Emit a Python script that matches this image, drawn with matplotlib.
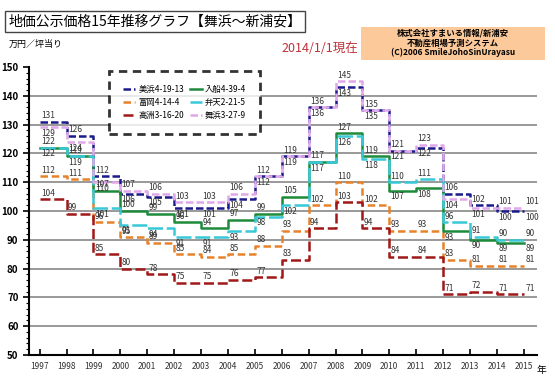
import matplotlib.pyplot as plt
from matplotlib.patches import Rectangle

plt.rcParams['font.family'] = ['Noto Sans CJK JP', 'DejaVu Sans']

years = list(range(1997, 2016))

mihama = [131, 126, 112, 106, 105, 101, 101, 104, 112, 119, 136, 143, 135, 121, 122, 106, 102, 100, 100]
maihama = [129, 124, 110, 107, 106, 103, 103, 106, 112, 119, 136, 145, 135, 121, 123, 104, 101, 101, 101]
irifune = [122, 119, 107, 100, 99, 96, 94, 97, 99, 105, 117, 127, 119, 107, 108, 93, 90, 89, 89]
benten = [122, 119, 101, 95, 94, 91, 91, 93, 98, 102, 117, 126, 118, 110, 111, 96, 91, 90, 90]
tomioka = [112, 111, 96, 91, 89, 85, 84, 85, 88, 93, 102, 110, 102, 93, 93, 83, 81, 81, 81]
takasu = [104, 99, 85, 80, 78, 75, 75, 76, 77, 83, 94, 103, 94, 84, 84, 71, 72, 71, 71]

names = ['美浜4-19-13', '富岡4-14-4', '高洲3-16-20', '入船4-39-4', '弁天2-21-5', '舞浜3-27-9']

fig = plt.figure(figsize=(5.55, 3.85), dpi=100)
ax = fig.add_axes([0.052, 0.078, 0.916, 0.748])

# series: values, colour, dash pattern
series = [
    (mihama, '#1a1a8c', (3, 1.2)),
    (tomioka, '#e8822a', (3, 1.5)),
    (takasu, '#a01818', (4, 1.5)),
    (irifune, '#1e8a3c', None),
    (benten, '#38c8d8', (6, 1.5)),
    (maihama, '#e0a8e8', (3, 1.2)),
]

handles = []
for (vals, col, dash), name in zip(series, names):
    line, = ax.step(years, vals, where='post', color=col, lw=1.8, label=name)
    if dash:
        line.set_dashes(dash)
    handles.append(line)


def put_label(x, v, above):
    if above:
        ax.annotate(str(v), (x, v), xytext=(1, 1.2), textcoords='offset points',
                    ha='left', va='bottom', fontsize=6, color='#333333')
    else:
        ax.annotate(str(v), (x, v), xytext=(1, -1.2), textcoords='offset points',
                    ha='left', va='top', fontsize=6, color='#333333')


for i, yr in enumerate(years):
    put_label(yr, mihama[i], mihama[i] >= maihama[i])
    put_label(yr, maihama[i], maihama[i] > mihama[i])
    put_label(yr, benten[i], benten[i] >= irifune[i])
    put_label(yr, irifune[i], irifune[i] > benten[i])
    put_label(yr, tomioka[i], True)
    put_label(yr, takasu[i], True)

ax.set_xlim(1996.6, 2015.5)
ax.set_ylim(50, 150)
ax.set_yticks(range(50, 151, 10))
ax.set_yticks(range(50, 151, 2), minor=True)
ax.set_xticks(years)
ax.set_xticklabels([str(y) for y in years], fontsize=6, style='italic', color='#333333')
ax.tick_params(axis='y', labelsize=7, length=4, width=1.2)
ax.tick_params(axis='y', which='minor', length=2.5, width=0.8)
ax.tick_params(axis='x', direction='in', length=4, width=1.2, pad=5)
for t in ax.get_yticklabels():
    t.set_fontweight('bold')
ax.grid(axis='y', color='#888888', lw=1.2)
ax.get_ygridlines()[-1].set_visible(False)
ax.set_axisbelow(True)
for s in ['top', 'right']:
    ax.spines[s].set_visible(False)
ax.spines['left'].set_linewidth(1.5)
ax.spines['bottom'].set_linewidth(1.5)

leg = ax.legend(handles=handles, ncol=2, loc='upper left', bbox_to_anchor=(0.15, 1.0),
                fontsize=6, frameon=True, fancybox=False, borderpad=1.7,
                handlelength=1.4, columnspacing=0.7, labelspacing=0.45, handletextpad=0.4)
fr = leg.get_frame()
fr.set_edgecolor('black')
fr.set_linestyle((0, (3, 2)))
fr.set_linewidth(2)

fig.text(0.015, 0.877, '万円／坪当り', fontsize=6.5)
fig.text(0.985, 0.03, '年', fontsize=7, ha='right')

fig.text(0.015, 0.945, '地価公示価格15年推移グラフ【舞浜～新浦安】', fontsize=10, va='center',
         bbox=dict(boxstyle='square,pad=0.25', fc='white', ec='#444444', lw=1))
fig.text(0.508, 0.875, '2014/1/1現在', fontsize=9, color='#c0303a', va='center')
fig.patches.append(Rectangle((0.65, 0.845), 0.332, 0.085, transform=fig.transFigure,
                             fc='#fbc99a', ec='none', zorder=0))
fig.text(0.816, 0.888, '株式会社すまいる情報/新浦安\n不動産相場予測システム\n(C)2006 SmileJohoSinUrayasu',
         fontsize=6, ha='center', va='center', linespacing=1.1, fontweight='bold')

fig.savefig('out.png', dpi=100)
